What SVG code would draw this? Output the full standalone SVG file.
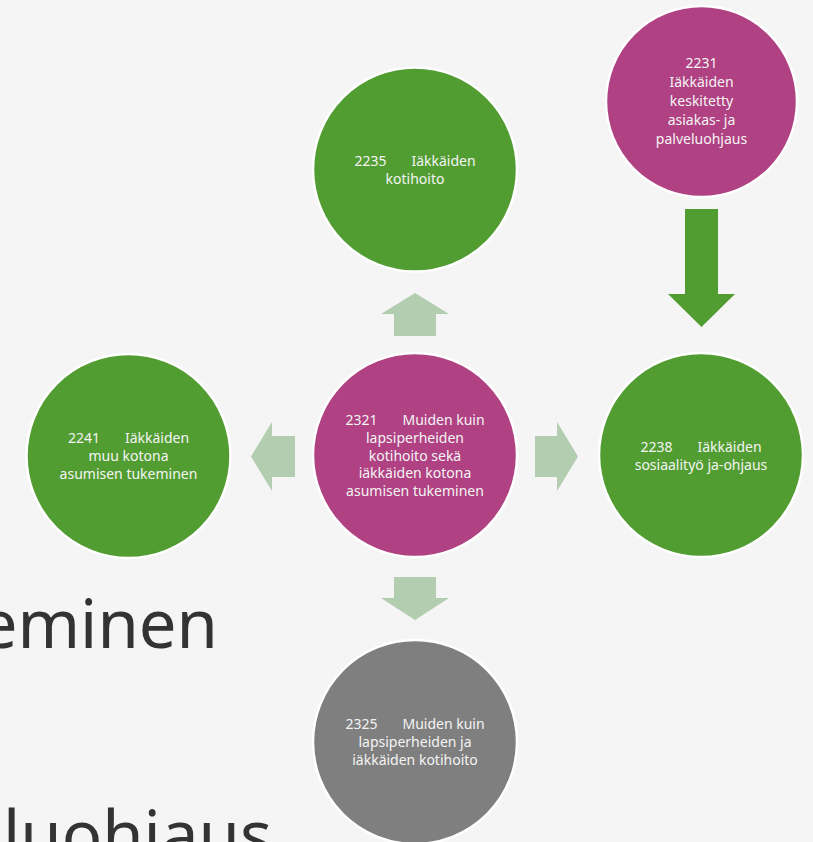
<svg xmlns="http://www.w3.org/2000/svg" width="813" height="842" viewBox="0 0 813 842">
  <style>
    .bg { fill: #f5f5f5; }
    .big { font-family: "Noto Sans", "Open Sans", sans-serif; font-size: 67px; fill: #333333; }
    .node { stroke: #ffffff; stroke-width: 2.5; }
    .green { fill: #529d32; }
    .mag { fill: #b04183; }
    .gray { fill: #7f7f7f; }
    .lbl { font-family: "Noto Sans", "Open Sans", sans-serif; font-size: 14px; fill: #f4f4f4; text-anchor: middle; }
    .light { fill: #b3cdb0; }
    .dark { fill: #529d32; }
  </style>
  <rect class="bg" x="0" y="0" width="813" height="842"/>

  <g id="background-text">
    <text class="big" x="218" y="648" text-anchor="end">eminen</text>
    <text class="big" x="272" y="859" text-anchor="end">luohjaus</text>
  </g>

  <g id="connectors">
    <polygon class="light" points="394,336 394,314 381,314 415,293 449,314 436,314 436,336"/>
    <polygon class="light" points="394,577 436,577 436,598 449,598 415,620 381,598 394,598"/>
    <polygon class="light" points="295,436 272,436 272,422 251,456.5 272,491 272,477 295,477"/>
    <polygon class="light" points="535,436 557,436 557,422 578,456.5 557,491 557,477 535,477"/>
    <polygon class="dark" points="685,209 718,209 718,294 735,294 701.5,327 668,294 685,294"/>
  </g>

  <g id="node-2235">
    <circle class="node green" cx="415" cy="169.5" r="102"/>
    <text class="lbl" x="415" y="166"><tspan>2235</tspan><tspan dx="25">Iäkkäiden</tspan></text>
    <text class="lbl" x="415" y="183.5">kotihoito</text>
  </g>

  <g id="node-2231">
    <circle class="node mag" cx="701.5" cy="101.5" r="95.5"/>
    <text class="lbl" x="701.5" y="68">2231</text>
    <text class="lbl" x="701.5" y="87">Iäkkäiden</text>
    <text class="lbl" x="701.5" y="106">keskitetty</text>
    <text class="lbl" x="701.5" y="125">asiakas- ja</text>
    <text class="lbl" x="701.5" y="144">palveluohjaus</text>
  </g>

  <g id="node-2321">
    <circle class="node mag" cx="415" cy="455" r="102"/>
    <text class="lbl" x="415" y="425"><tspan>2321</tspan><tspan dx="25">Muiden kuin</tspan></text>
    <text class="lbl" x="415" y="442.8">lapsiperheiden</text>
    <text class="lbl" x="415" y="460.6">kotihoito sekä</text>
    <text class="lbl" x="415" y="478.4">iäkkäiden kotona</text>
    <text class="lbl" x="415" y="496.2">asumisen tukeminen</text>
  </g>

  <g id="node-2241">
    <circle class="node green" cx="128.5" cy="456" r="102"/>
    <text class="lbl" x="128.5" y="443.3"><tspan>2241</tspan><tspan dx="25">Iäkkäiden</tspan></text>
    <text class="lbl" x="128.5" y="461">muu kotona</text>
    <text class="lbl" x="128.5" y="478.8">asumisen tukeminen</text>
  </g>

  <g id="node-2238">
    <circle class="node green" cx="701" cy="455" r="102"/>
    <text class="lbl" x="701" y="451.7"><tspan>2238</tspan><tspan dx="25">Iäkkäiden</tspan></text>
    <text class="lbl" x="701" y="469.7">sosiaalityö ja-ohjaus</text>
  </g>

  <g id="node-2325">
    <circle class="node gray" cx="415" cy="742" r="102"/>
    <text class="lbl" x="415" y="729.3"><tspan>2325</tspan><tspan dx="25">Muiden kuin</tspan></text>
    <text class="lbl" x="415" y="747.2">lapsiperheiden ja</text>
    <text class="lbl" x="415" y="765">iäkkäiden kotihoito</text>
  </g>
</svg>
